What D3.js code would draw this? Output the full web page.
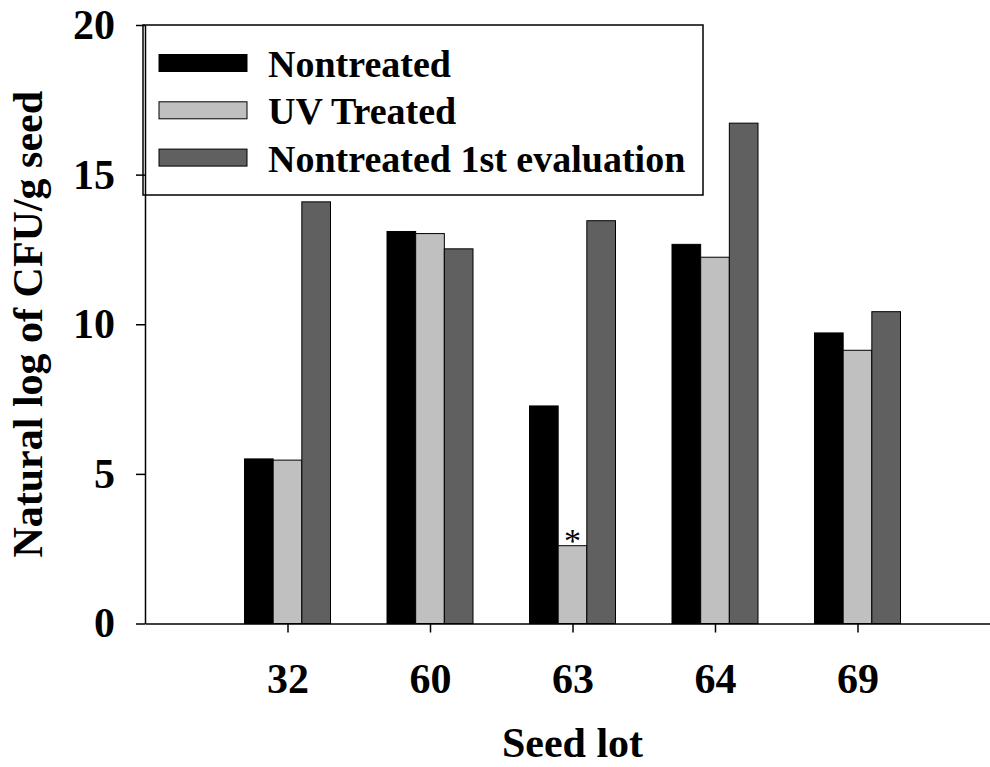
<!DOCTYPE html>
<html>
<head>
<meta charset="utf-8">
<script src="https://cdn.jsdelivr.net/npm/d3@7"></script>
<style>
    body { margin: 0; background: #fff; }
    svg { display: block; font-family: "Liberation Serif", "Times New Roman", serif; }
</style>
</head>
<body>
<div id="chart"></div>
<script>
var seedLots = ['32', '60', '63', '64', '69'];
var nontreated = [5.50, 13.10, 7.27, 12.67, 9.71];
var uvTreated = [5.46, 13.03, 2.60, 12.24, 9.13];
var firstEvaluation = [14.09, 12.52, 13.46, 16.72, 10.42];
var seriesNames = ['Nontreated', 'UV Treated', 'Nontreated 1st evaluation'];
var seriesColors = ['#000000', '#c0c0c0', '#606060'];
var yTicks = [0, 5, 10, 15, 20];
var markedBars = [{lot: '63', series: 1, label: '*'}];

var w = 990;
var h = 767;

var svg = d3.select('#chart').append('svg')
    .attr('width', w)
    .attr('height', h);

var x = d3.scalePoint()
    .domain(seedLots)
    .range([145, 1000])
    .padding(1);

var y = d3.scaleLinear()
    .domain([0, 20])
    .range([623.5, 25]);

var inner = d3.scaleBand()
    .domain(d3.range(seriesNames.length))
    .range([-43, 43]);

var allSeries = [nontreated, uvTreated, firstEvaluation];
var bars = [];
allSeries.forEach(function (values, s) {
    values.forEach(function (v, i) {
        bars.push({lot: seedLots[i], series: s, value: v});
    });
});

// legend box (drawn under the axes)
var legend = svg.append('g').attr('class', 'legend');
legend.append('rect')
    .attr('x', 143)
    .attr('y', 25)
    .attr('width', 560)
    .attr('height', 170)
    .attr('fill', 'none')
    .attr('stroke', '#000')
    .attr('stroke-width', 1.5);

var items = legend.selectAll('g.item')
    .data(seriesNames)
    .enter().append('g')
    .attr('class', 'item')
    .attr('transform', function (d, i) {
        return 'translate(0,' + (63 + i * 47.3) + ')';
    });
items.append('rect')
    .attr('x', 159)
    .attr('y', -8.5)
    .attr('width', 88)
    .attr('height', 17)
    .attr('fill', function (d, i) { return seriesColors[i]; })
    .attr('stroke', '#000')
    .attr('stroke-width', 1);
items.append('text')
    .attr('x', 268)
    .attr('y', 14)
    .attr('font-size', 38)
    .attr('font-weight', 'bold')
    .text(function (d) { return d; });

// bars
svg.append('g')
    .selectAll('rect')
    .data(bars)
    .enter().append('rect')
    .attr('x', function (d) { return x(d.lot) + inner(d.series); })
    .attr('width', inner.bandwidth())
    .attr('y', function (d) { return y(d.value); })
    .attr('height', function (d) { return y(0) - y(d.value); })
    .attr('fill', function (d) { return seriesColors[d.series]; })
    .attr('stroke', '#000')
    .attr('stroke-width', 1);

// significance marks
svg.append('g')
    .selectAll('text')
    .data(markedBars)
    .enter().append('text')
    .attr('x', function (d) { return x(d.lot) + inner(d.series) + inner.bandwidth() / 2; })
    .attr('y', function (d) {
        var v = allSeries[d.series][seedLots.indexOf(d.lot)];
        return y(v) + 6;
    })
    .attr('text-anchor', 'middle')
    .attr('font-size', 34)
    .text(function (d) { return d.label; });

// axes
var xAxis = svg.append('g')
    .attr('transform', 'translate(0,' + y(0) + ')')
    .call(d3.axisBottom(x).tickSize(9).tickSizeOuter(0).tickPadding(31));

var yAxis = svg.append('g')
    .attr('transform', 'translate(145,0)')
    .call(d3.axisLeft(y).tickValues(yTicks).tickSize(9).tickSizeOuter(0).tickPadding(21));

[xAxis, yAxis].forEach(function (g) {
    g.selectAll('path, line').attr('stroke', '#000').attr('stroke-width', 1.5);
    g.selectAll('text')
        .attr('fill', '#000')
        .attr('font-family', '"Liberation Serif", "Times New Roman", serif')
        .attr('font-size', 42)
        .attr('font-weight', 'bold');
});

// axis titles
svg.append('text')
    .attr('x', 572.5)
    .attr('y', 757)
    .attr('text-anchor', 'middle')
    .attr('font-size', 42)
    .attr('font-weight', 'bold')
    .text('Seed lot');

svg.append('text')
    .attr('transform', 'translate(42,' + ((y(0) + y(20)) / 2) + ') rotate(-90)')
    .attr('text-anchor', 'middle')
    .attr('font-size', 42)
    .attr('font-weight', 'bold')
    .text('Natural log of CFU/g seed');
</script>
</body>
</html>
